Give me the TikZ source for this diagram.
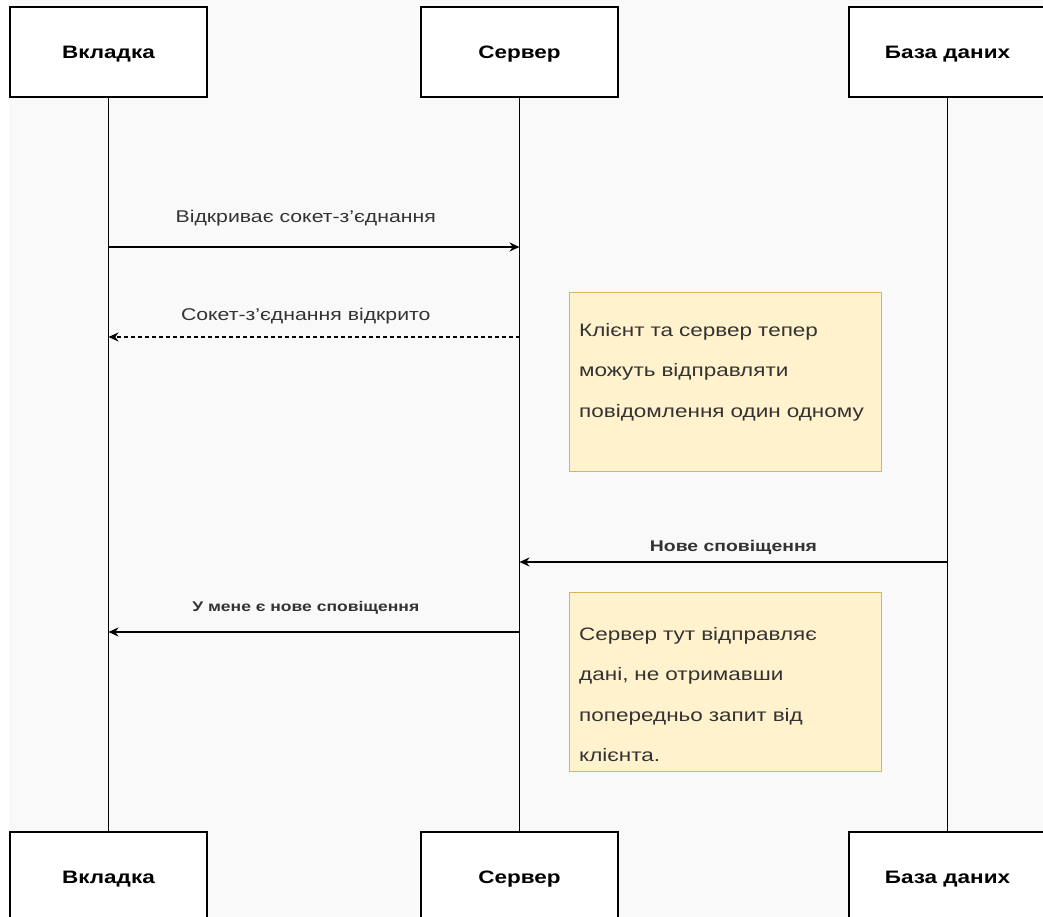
\documentclass[tikz,border=0pt]{standalone}
\usepackage{fontspec}
\setmainfont[FakeStretch=1.25]{Liberation Sans}
\usetikzlibrary{positioning}
\usetikzlibrary{arrows.meta}
\definecolor{bggray}{HTML}{F9F9F9}
\definecolor{notefill}{HTML}{FFF2CC}
\definecolor{noteline}{HTML}{D6B656}
\definecolor{txtgray}{HTML}{333333}

\begin{document}
\begin{tikzpicture}[x=1pt,y=-1pt,
	actor/.style={draw,fill=white,line width=1.3pt,minimum width=197pt,minimum height=90pt,text height=13pt,text depth=0pt,font=\bfseries\fontsize{18}{20}\selectfont},
	life/.style={line width=1.3pt},
	msg/.style={line width=1.2pt,-{Stealth[length=10pt,width=9pt]}},
	lbl/.style={text=txtgray,font=\fontsize{17}{19}\selectfont,inner sep=0pt},
	note/.style={draw=noteline,fill=notefill,line width=1pt,minimum width=312pt,minimum height=179pt,anchor=north west},
	notetext/.style={text=txtgray,align=left,text width=300pt,anchor=base west,inner sep=0pt,font=\fontsize{18}{40.5}\selectfont}]
	\useasboundingbox (0,0) rectangle (1043,917);
	\fill[bggray] (9,0) rectangle (1043,917);

	% lifeline heads
	\node[actor] (tab) at (108.5,52) {Вкладка};
	\node[actor] (srv) at (519.5,52) {Сервер};
	\node[actor] (db) at (947.5,52) {База даних};
	\node[actor] (tabB) at (108.5,877) {Вкладка};
	\node[actor] (srvB) at (519.5,877) {Сервер};
	\node[actor] (dbB) at (947.5,877) {База даних};
	\draw[life] (tab) -- (tabB);
	\draw[life] (srv) -- (srvB);
	\draw[life] (db) -- (dbB);

	% messages
	\coordinate (m1a) at (108.5,247);	\coordinate (m1b) at (519.5,247);
	\coordinate (m2a) at (519.5,337);	\coordinate (m2b) at (108.5,337);
	\coordinate (m3a) at (947.5,562);	\coordinate (m3b) at (519.5,562);
	\coordinate (m4a) at (519.5,632);	\coordinate (m4b) at (108.5,632);
	\draw[msg] (m1a) -- node[lbl,pos=0.48,yshift=29pt] (l1) {Відкриває сокет-з'єднання} (m1b);
	\draw[msg,dash pattern=on 4pt off 3pt] (m2a) -- node[lbl,pos=0.52,yshift=21pt] (l2) {Сокет-з'єднання відкрито} (m2b);
	\draw[msg] (m3a) -- node[lbl,font=\bfseries\fontsize{15.5}{17}\selectfont,yshift=15pt] (l3) {Нове сповіщення} (m3b);
	\draw[msg] (m4a) -- node[lbl,font=\bfseries\fontsize{14}{16}\selectfont,pos=0.52,yshift=24pt] (l4) {У мене є нове сповіщення} (m4b);

	% notes
	\node[note] (n1) at (569,292) {};
	\node[notetext] (n1t) at (579,336) {Клієнт та сервер тепер\\можуть відправляти\\повідомлення один одному};
	\node[note] (n2) at (569,592) {};
	\node[notetext] (n2t) at (579,640) {Сервер тут відправляє\\дані, не отримавши\\попередньо запит від\\клієнта.};
\end{tikzpicture}
\end{document}
